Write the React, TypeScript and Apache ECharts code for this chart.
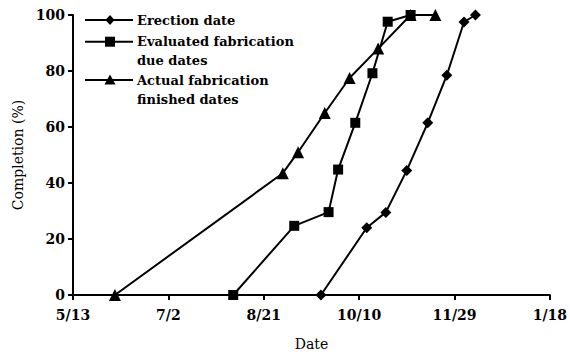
import React, { useEffect, useRef } from "react";
import * as echarts from "echarts";

const BASE_YEAR = 2006;

const xTickLabels = ["5/13", "7/2", "8/21", "10/10", "11/29", "1/18"];
const yTickValues = [0, 20, 40, 60, 80, 100];

const erectionDates = ["9/20", "10/14", "10/24", "11/4", "11/15", "11/25", "12/4", "12/10"];
const erectionPct = [0, 24, 29.5, 44.5, 61.5, 78.5, 97.5, 100];

const evaluatedDates = ["8/5", "9/6", "9/24", "9/29", "10/8", "10/17", "10/25", "11/6"];
const evaluatedPct = [0, 24.7, 29.6, 44.8, 61.5, 79.2, 97.6, 100];

const actualDates = ["6/4", "8/31", "9/8", "9/22", "10/5", "10/20", "11/6", "11/19"];
const actualPct = [0, 43.5, 51, 65, 77.5, 88, 100, 100];

const seriesNames = ["Erection date", "Evaluated fabrication\ndue dates", "Actual fabrication\nfinished dates"];

const DAY = 86400000;
const ORIGIN = Date.UTC(BASE_YEAR, 4, 13);

function dayOffset(md: string): number {
  const [m, d] = md.split("/").map(Number);
  const y = m < 5 ? BASE_YEAR + 1 : BASE_YEAR;
  return Math.round((Date.UTC(y, m - 1, d) - ORIGIN) / DAY);
}

function toPoints(dates: string[], pct: number[]) {
  return dates.map((d, i) => [dayOffset(d), pct[i]]);
}

export default function App() {
  const ref = useRef<HTMLDivElement>(null);
  useEffect(() => {
    document.body.style.margin = "0";
    if (!ref.current) return;
    const chart = echarts.init(ref.current, undefined, { renderer: "svg" });
    const xMin = dayOffset(xTickLabels[0]);
    const xMax = dayOffset(xTickLabels[xTickLabels.length - 1]);
    const xInterval = dayOffset(xTickLabels[1]) - xMin;
    const black = "#000";
    const tickFont = { fontFamily: "DejaVu Serif", fontWeight: "bold" as const, fontSize: 14, color: black };
    const lineCommon = {
      type: "line" as const,
      smooth: false,
      clip: false,
      lineStyle: { color: black, width: 2 },
      itemStyle: { color: black },
    };
    const legendY = [20, 41.7, 80];
    const legendFont = { fontFamily: "DejaVu Serif", fontWeight: "bold", fontSize: 13, fill: black, lineHeight: 19 };
    const cx = 110;
    chart.setOption({
      animation: false,
      backgroundColor: "#fff",
      grid: { left: 73, right: 19, top: 15, bottom: 60 },
      xAxis: {
        type: "value",
        min: xMin,
        max: xMax,
        interval: xInterval,
        name: "Date",
        nameLocation: "middle",
        nameGap: 42,
        nameTextStyle: { fontFamily: "DejaVu Serif", fontSize: 14, color: black },
        axisLine: { lineStyle: { color: black, width: 2 } },
        axisTick: { inside: false, length: 5, lineStyle: { color: black, width: 2 } },
        axisLabel: {
          ...tickFont,
          margin: 13,
          formatter: (v: number) => xTickLabels[Math.round((v - xMin) / xInterval)] ?? "",
        },
        splitLine: { show: false },
      },
      yAxis: {
        type: "value",
        min: yTickValues[0],
        max: yTickValues[yTickValues.length - 1],
        interval: yTickValues[1] - yTickValues[0],
        name: "Completion (%)",
        nameLocation: "middle",
        nameGap: 48,
        nameTextStyle: { fontFamily: "DejaVu Serif", fontSize: 14, color: black },
        axisLine: { show: true, lineStyle: { color: black, width: 2 } },
        axisTick: { show: true, inside: false, length: 5, lineStyle: { color: black, width: 2 } },
        axisLabel: { ...tickFont, margin: 8 },
        splitLine: { show: false },
      },
      series: [
        { ...lineCommon, name: seriesNames[0], symbol: "diamond", symbolSize: 11, data: toPoints(erectionDates, erectionPct) },
        { ...lineCommon, name: seriesNames[1], symbol: "rect", symbolSize: 10, data: toPoints(evaluatedDates, evaluatedPct) },
        { ...lineCommon, name: seriesNames[2], symbol: "triangle", symbolSize: 12, data: toPoints(actualDates, actualPct) },
      ],
      graphic: [
        { type: "line", shape: { x1: 85, y1: legendY[0], x2: 133, y2: legendY[0] }, style: { stroke: black, lineWidth: 2 } },
        {
          type: "polygon",
          shape: { points: [[cx, legendY[0] - 5], [cx + 4.5, legendY[0]], [cx, legendY[0] + 5], [cx - 4.5, legendY[0]]] },
          style: { fill: black },
        },
        { type: "text", x: 137, y: legendY[0] - 9.5, style: { ...legendFont, text: seriesNames[0], verticalAlign: "top" } },
        { type: "line", shape: { x1: 85, y1: legendY[1], x2: 133, y2: legendY[1] }, style: { stroke: black, lineWidth: 2 } },
        { type: "rect", shape: { x: cx - 5, y: legendY[1] - 5, width: 10, height: 10 }, style: { fill: black } },
        { type: "text", x: 137, y: legendY[1] - 9.5, style: { ...legendFont, text: seriesNames[1], verticalAlign: "top" } },
        { type: "line", shape: { x1: 85, y1: legendY[2], x2: 133, y2: legendY[2] }, style: { stroke: black, lineWidth: 2 } },
        {
          type: "polygon",
          shape: { points: [[cx, legendY[2] - 5.5], [cx + 5.5, legendY[2] + 4.5], [cx - 5.5, legendY[2] + 4.5]] },
          style: { fill: black },
        },
        { type: "text", x: 137, y: legendY[2] - 9.5, style: { ...legendFont, text: seriesNames[2], verticalAlign: "top" } },
      ],
    });
    return () => chart.dispose();
  }, []);
  return <div ref={ref} style={{ width: 570, height: 356 }} />;
}
